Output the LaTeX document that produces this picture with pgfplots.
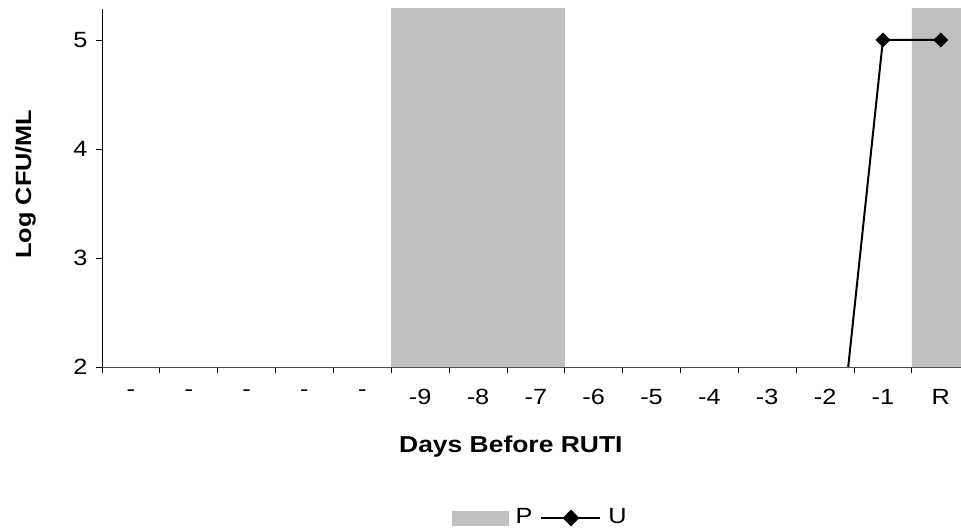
\documentclass[border=0pt]{standalone}
\usepackage{fontspec}
\setmainfont{Liberation Sans}[FakeStretch=1.15]
\usepackage{pgfplots}
\pgfplotsset{compat=1.18}
\definecolor{barGray}{HTML}{C0C0C0}
\begin{document}
\fontsize{22pt}{26pt}\selectfont
\begin{tikzpicture}
\path[use as bounding box] (0pt,0pt) rectangle (961pt,531pt);
\begin{axis}[
  at={(102pt,164pt)}, anchor=south west,
  scale only axis, width=859pt, height=358pt,
  xmin=-0.5, xmax=14.35, ymin=2, ymax=5.284,
  axis x line*=bottom, axis y line*=left,
  axis line style={-},
  x axis line style={black!70},
  xtick pos=bottom, ytick pos=left,
  tick align=outside,
  xtick={0,...,14},
  xticklabels={-,-,-,-,-,-9,-8,-7,-6,-5,-4,-3,-2,-1,R},
  major x tick style={draw=none},
  minor xtick={-0.5,0.5,...,13.5},
  minor tick length=6pt,
  major tick length=6pt,
  tick style={black, line width=0.8pt},
  ytick={2,3,4,5},
  /pgf/number format/assume math mode=true,
  tick label style={font=\fontsize{22pt}{26pt}\selectfont},
  xticklabel style={yshift=-9pt},
  yticklabel style={xshift=-1pt},
  label style={font=\fontsize{23pt}{27pt}\selectfont\bfseries},
  xlabel={Days Before RUTI},
  ylabel={Log CFU/ML},
  xlabel style={at={(axis description cs:0.476,-0.221)}, anchor=center},
  ylabel style={at={(axis description cs:-0.089,0.511)}, anchor=center,
    font=\fontsize{22pt}{26pt}\selectfont\bfseries},
  legend style={at={(axis description cs:0.513,-0.4218)}, anchor=center,
    draw=none, fill=none, legend columns=2,
    font=\fontsize{22pt}{26pt}\selectfont,
    nodes={inner xsep=7pt},
    /tikz/every even column/.append style={column sep=1pt}},
  legend cell align=left,
  axis on top,
  clip=true,
]
\addplot[ybar, bar width=1, bar shift=0, fill=barGray, draw=none,
  legend image code/.code={\fill[barGray] (0pt,-7.5pt) rectangle (57pt,7.5pt);}]
  coordinates {(5,6) (6,6) (7,6) (14,6)};
\addlegendentry{P}
\addplot[black, line width=2pt, mark=square*, mark size=5pt,
  mark options={rotate=45, solid, fill=black, line width=0.5pt},
  mark indices={1,2},
  legend image code/.code={
    \draw[black, line width=2pt] (0pt,0pt) -- (59pt,0pt);
    \fill[black] (29.5pt,7pt) -- (36.5pt,0pt) -- (29.5pt,-7pt) -- (22.5pt,0pt) -- cycle;}]
  coordinates {(12,0) (13,5) (14,5)};
\addlegendentry{U}
\end{axis}
\end{tikzpicture}
\end{document}
